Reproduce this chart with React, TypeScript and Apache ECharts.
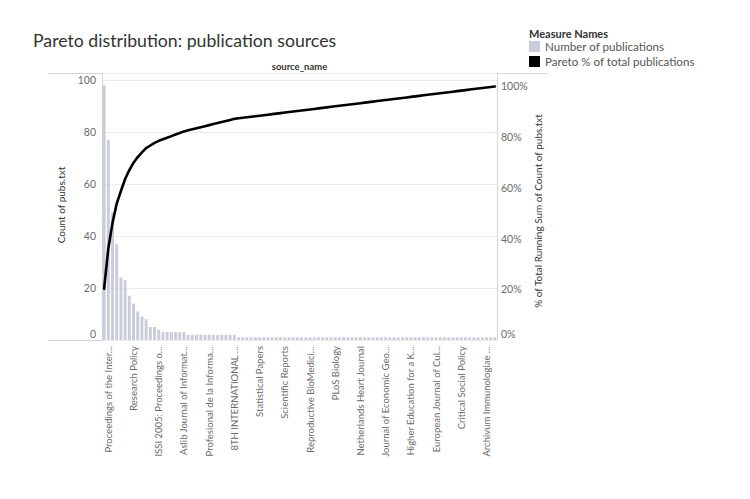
import React, { useEffect, useRef } from "react";
import * as echarts from "echarts";

const title = "Pareto distribution: publication sources";
const columnHeader = "source_name";
const leftAxisTitle = "Count of pubs.txt";
const rightAxisTitle = "% of Total Running Sum of Count of pubs.txt";
const legendTitle = "Measure Names";
const legendItems = ["Number of publications", "Pareto % of total publications"];

const categories = [
  "Scientometrics",
  "Proceedings of the International Conference on Scientometrics and Informetrics",
  "Journal of Informetrics",
  "Journal of the American Society for Information Science and Technology",
  "PLoS ONE",
  "Research Evaluation",
  "Journal of the Association for Information Science and Technology",
  "Research Policy",
  "Quantitative Science Studies",
  "Journal of Documentation",
  "Science and Public Policy",
  "Nature",
  "Journal of Information Science",
  "ISSI 2005: Proceedings of the 10th International Conference",
  "Science",
  "Online Information Review",
  "Information Processing & Management",
  "Higher Education",
  "Frontiers in Research Metrics and Analytics",
  "Aslib Journal of Information Management",
  "Technological Forecasting and Social Change",
  "Studies in Higher Education",
  "Research Trends",
  "Publications",
  "Proceedings of the National Academy of Sciences",
  "Profesional de la Informacion",
  "Minerva",
  "Learned Publishing",
  "Journal of Scholarly Publishing",
  "Cybermetrics",
  "BMJ Open",
  "8TH INTERNATIONAL CONFERENCE ON WEBOMETRICS",
  "Zeitschrift für Evaluation",
  "World Patent Information",
  "Teaching in Higher Education",
  "Synthese",
  "Studies in Science Education",
  "Statistical Papers",
  "Social Studies of Science",
  "Social Science Information",
  "Scientometric Research Letters",
  "Scientific Data",
  "Scientific American",
  "Scientific Reports",
  "Science Communication",
  "Science and Engineering Ethics",
  "Salud Pública de México",
  "Revista Española de Documentación Científica",
  "Research in Higher Education",
  "Reproductive BioMedicine Online",
  "Regional Studies",
  "R&D Management",
  "Public Understanding of Science",
  "Prometheus",
  "Policy Sciences",
  "PLoS Biology",
  "Perspectives on Science",
  "Oncotarget",
  "Nurse Education Today",
  "New Media & Society",
  "Neuron",
  "Netherlands Heart Journal",
  "Nature Biotechnology",
  "Medical Education",
  "Management Science",
  "Library Hi Tech",
  "Journal of Higher Education Policy and Management",
  "Journal of Economic Geography",
  "Journal of Cleaner Production",
  "Journal of Business Research",
  "International Journal of Innovation Management",
  "Interciencia",
  "Innovation: Organization & Management",
  "Higher Education for a Knowledge Society",
  "Health Research Policy and Systems",
  "Globalisation, Societies and Education",
  "Genome Biology",
  "Futures",
  "F1000Research",
  "European Journal of Cultural Studies",
  "Environmental Science & Policy",
  "eLife",
  "Ecological Economics",
  "Digital Libraries",
  "Current Science",
  "Critical Social Policy",
  "Cortex",
  "College & Research Libraries",
  "Cell",
  "BMC Medicine",
  "Area",
  "Archivum Immunologiae et Therapiae Experimentalis",
  "American Sociological Review",
  "Accountability in Research",
];

const publications = [
  98, 77, 49, 37, 24, 23, 17, 14, 11, 9, 8, 5, 5, 4,
  3, 3, 3, 3, 3, 3,
  2, 2, 2, 2, 2, 2, 2, 2, 2, 2, 2, 2,
  1, 1, 1, 1, 1, 1, 1, 1, 1, 1, 1, 1, 1, 1, 1, 1, 1, 1, 1, 1,
  1, 1, 1, 1, 1, 1, 1, 1, 1, 1, 1, 1, 1, 1, 1, 1, 1, 1, 1, 1,
  1, 1, 1, 1, 1, 1, 1, 1, 1, 1, 1, 1, 1, 1, 1, 1, 1, 1, 1, 1,
  1, 1,
];

const leftTicks = [0, 20, 40, 60, 80, 100];
const rightTicks = [0, 20, 40, 60, 80, 100];

const FONT = "Lato";
const BAR_COLOR = "#c9ccda";
const FRAME = "#d6d6d6";

export default function App() {
  const ref = useRef<HTMLDivElement>(null);

  useEffect(() => {
    if (!ref.current) return;
    const chart = echarts.init(ref.current, null, { renderer: "svg" });

    const total = publications.reduce((a, b) => a + b, 0);
    let run = 0;
    const pareto = publications.map((v) => {
      run += v;
      return (run / total) * 100;
    });

    const plotLeft = 102;
    const plotRight = 497;
    const plotTop = 73;
    const plotBottom = 340;

    const tickRich = { lift: { padding: [0, 0, 13, 0] } };

    chart.setOption({
      animation: false,
      backgroundColor: "#ffffff",
      textStyle: { fontFamily: FONT },
      grid: {
        left: plotLeft,
        right: 750 - plotRight,
        top: plotTop,
        bottom: 499 - plotBottom,
        containLabel: false,
      },
      xAxis: {
        type: "category",
        data: categories,
        boundaryGap: true,
        axisLine: { show: false },
        axisTick: { show: false },
        axisLabel: {
          interval: (index: number) => index % 6 === 1,
          rotate: 90,
          margin: 6,
          fontSize: 9.5,
          fontFamily: FONT,
          color: "#6a6a6a",
          width: 112,
          overflow: "truncate",
          ellipsis: "…",
          hideOverlap: false,
        },
        splitLine: { show: false },
      },
      yAxis: [
        {
          type: "value",
          min: 0,
          max: 102.7,
          interval: 20,
          axisLine: { show: true, lineStyle: { color: FRAME, width: 1 } },
          axisTick: { show: false },
          axisLabel: {
            showMaxLabel: false,
            fontSize: 10.5,
            fontFamily: FONT,
            color: "#6a6a6a",
            margin: 6,
            rich: tickRich,
            formatter: (v: number) =>
              v === 0 ? "{lift|0}" : leftTicks.includes(v) ? String(v) : "",
          },
          splitLine: { show: true, lineStyle: { color: "#ececec", width: 1 } },
        },
        {
          type: "value",
          min: 0,
          max: 105.3,
          interval: 20,
          position: "right",
          axisLine: { show: true, lineStyle: { color: FRAME, width: 1 } },
          axisTick: { show: false },
          axisLabel: {
            showMaxLabel: false,
            fontSize: 10.5,
            fontFamily: FONT,
            color: "#6a6a6a",
            margin: 4,
            rich: tickRich,
            formatter: (v: number) =>
              v === 0 ? "{lift|0%}" : rightTicks.includes(v) ? v + "%" : "",
          },
          splitLine: { show: false },
        },
      ],
      series: [
        {
          name: legendItems[0],
          type: "bar",
          data: publications,
          yAxisIndex: 0,
          barCategoryGap: "30%",
          itemStyle: { color: BAR_COLOR },
          silent: true,
        },
        {
          name: legendItems[1],
          type: "line",
          data: pareto,
          yAxisIndex: 1,
          symbol: "none",
          smooth: false,
          lineStyle: { color: "#000000", width: 2.6, join: "round", cap: "round" },
          silent: true,
          z: 5,
        },
      ],
      graphic: [
        {
          type: "text",
          left: 33,
          top: 31,
          style: { text: title, font: `17.7px ${FONT}`, fill: "#333333" },
        },
        {
          type: "text",
          x: (plotLeft + plotRight) / 2,
          y: 66,
          style: {
            text: columnHeader,
            font: `bold 9.5px ${FONT}`,
            fill: "#333333",
            align: "center",
            verticalAlign: "middle",
          },
        },
        {
          type: "line",
          shape: { x1: 48, y1: plotTop + 0.5, x2: 548, y2: plotTop + 0.5 },
          style: { stroke: FRAME, lineWidth: 1 },
        },
        {
          type: "line",
          shape: { x1: 48, y1: plotBottom + 0.5, x2: plotRight, y2: plotBottom + 0.5 },
          style: { stroke: FRAME, lineWidth: 1 },
        },
        {
          type: "text",
          x: 61,
          y: 205,
          rotation: Math.PI / 2,
          style: {
            text: leftAxisTitle,
            font: `10px ${FONT}`,
            fill: "#333333",
            align: "center",
            verticalAlign: "middle",
          },
        },
        {
          type: "text",
          x: 538,
          y: 211,
          rotation: Math.PI / 2,
          style: {
            text: rightAxisTitle,
            font: `10px ${FONT}`,
            fill: "#333333",
            align: "center",
            verticalAlign: "middle",
          },
        },
        {
          type: "text",
          x: 529,
          y: 33,
          style: {
            text: legendTitle,
            font: `bold 11px ${FONT}`,
            fill: "#333333",
            verticalAlign: "middle",
          },
        },
        {
          type: "rect",
          shape: { x: 529, y: 41, width: 11, height: 11 },
          style: { fill: BAR_COLOR },
        },
        {
          type: "text",
          x: 545,
          y: 46.5,
          style: {
            text: legendItems[0],
            font: `11.6px ${FONT}`,
            fill: "#555555",
            verticalAlign: "middle",
          },
        },
        {
          type: "rect",
          shape: { x: 529, y: 56, width: 11, height: 11 },
          style: { fill: "#000000" },
        },
        {
          type: "text",
          x: 545,
          y: 61.5,
          style: {
            text: legendItems[1],
            font: `11.6px ${FONT}`,
            fill: "#555555",
            verticalAlign: "middle",
          },
        },
      ],
    });

    return () => chart.dispose();
  }, []);

  return (
    <div
      ref={ref}
      style={{ position: "absolute", left: 0, top: 0, width: 750, height: 499, background: "#fff" }}
    />
  );
}
